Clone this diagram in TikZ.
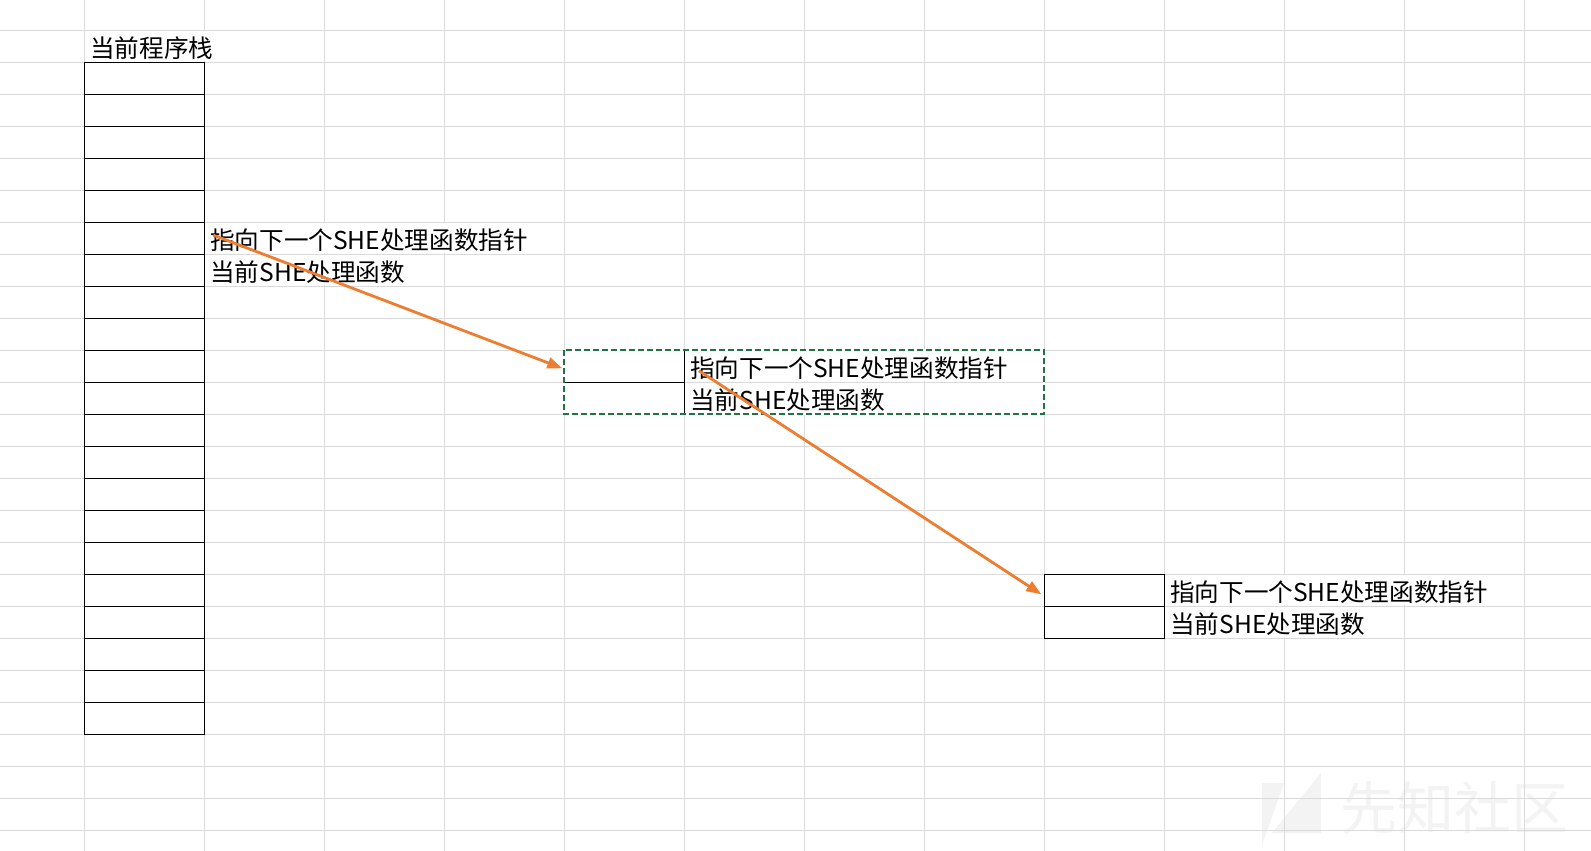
\documentclass[tikz,border=0pt]{standalone}
\usepackage{fontspec}
\setmainfont{Noto Sans CJK SC}
\usetikzlibrary{arrows.meta, positioning}
\definecolor{gridgray}{RGB}{218,218,218}
\definecolor{selgreen}{RGB}{33,115,70}
\definecolor{arroworange}{RGB}{237,125,49}
\definecolor{wmgray}{RGB}{243,243,243}
\tikzset{
	cell/.style={draw, line width=0.6pt, minimum width=60pt, minimum height=16pt, inner sep=0, outer sep=0, anchor=north west},
	lbl/.style={fill=white, inner sep=0, outer sep=0, text height=13pt, text depth=2pt, anchor=base west, font=\fontsize{12.3pt}{15pt}\selectfont},
	pointer/.style={arroworange, line width=1.4pt, -{Triangle[length=7.5pt, width=5.5pt]}},
	selbox/.style={selgreen, line width=1.1pt, dash pattern=on 3pt off 1.5pt},
}
\begin{document}
\begin{tikzpicture}[x=.5pt, y=-.5pt]
	\useasboundingbox (0, 0) rectangle (1591, 851);
	\fill[white] (0, 0) rectangle (1591, 851);
	% watermark
	\fill[wmgray] (1262, 783) -- (1284, 783) -- (1262, 845) -- cycle;
	\fill[wmgray] (1272, 833) -- (1321, 773) -- (1321, 833) -- cycle;
	\node[anchor=base west, inner sep=0, text=wmgray, font=\fontsize{28.5pt}{30pt}\selectfont] (wm) at (1340, 829) {先知社区};
	% sheet grid
	\foreach \c in {0,...,12}
		\draw[gridgray, line width=.5pt] ({84.3+120*\c}, 0) -- ({84.3+120*\c}, 851);
	\foreach \r in {0,...,25}
		\draw[gridgray, line width=.5pt] (0, {30.3+32*\r}) -- (1591, {30.3+32*\r});
	% program stack
	\foreach \i in {1,...,21}
		\node[cell] (s\i) at (84.3, {30.3+32*\i}) {};
	\node[lbl] (title) at ([xshift=3pt, yshift=2.5pt]s1.north west) {当前程序栈};
	\node[lbl] (p1) at ([xshift=3pt, yshift=2.5pt]s6.south east) {指向下一个SHE处理函数指针};
	\node[lbl] (p2) at ([xshift=3pt, yshift=2.5pt]s7.south east) {当前SHE处理函数};
	% second record
	\node[cell] (m1) at (564.3, 350.3) {};
	\node[cell, below=0pt of m1] (m2) {};
	\node[lbl] (q1) at ([xshift=3pt, yshift=2.5pt]m1.south east) {指向下一个SHE处理函数指针};
	\node[lbl] (q2) at ([xshift=3pt, yshift=2.5pt]m2.south east) {当前SHE处理函数};
	% third record
	\node[cell] (b1) at (1044.3, 574.3) {};
	\node[cell, below=0pt of b1] (b2) {};
	\node[lbl] (r1) at ([xshift=3pt, yshift=2.5pt]b1.south east) {指向下一个SHE处理函数指针};
	\node[lbl] (r2) at ([xshift=3pt, yshift=2.5pt]b2.south east) {当前SHE处理函数};
	% selection
	\draw[white, line width=1.1pt] (m1.north west) rectangle (m2.south east -| b1.west);
	\draw[selbox] (m1.north west) rectangle (m2.south east -| b1.west);
	% pointers
	\draw[pointer] ([xshift=1.5pt, yshift=1.6pt]p1.west) -- ([xshift=-1pt, yshift=-1pt]m1.west);
	\draw[pointer] ([xshift=4.3pt, yshift=-2.2pt]q1.west) -- ([xshift=-1.5pt, yshift=-2pt]b1.west);
\end{tikzpicture}
\end{document}
